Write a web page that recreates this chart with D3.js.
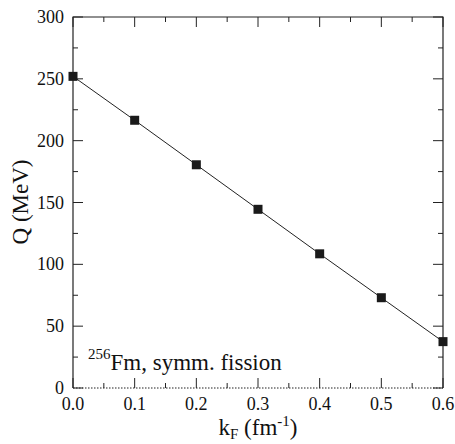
<!DOCTYPE html>
<html>
<head>
<meta charset="utf-8">
<script src="https://cdn.jsdelivr.net/npm/d3@7"></script>
<style>
  body { margin: 0; background: #fff; }
  text { font-family: "Liberation Serif", "Times New Roman", serif; fill: #111; }
</style>
</head>
<body>
<svg id="chart" width="455" height="444"></svg>
<script>
// data
const kF = [0.0, 0.1, 0.2, 0.3, 0.4, 0.5, 0.6]
const Q = [252, 216.5, 180.5, 144.5, 108.5, 73, 37.5]
const xTicks = [0.0, 0.1, 0.2, 0.3, 0.4, 0.5, 0.6]
const yTicks = [0, 50, 100, 150, 200, 250, 300]

const svg = d3.select('#chart')
const pL = 73, pR = 443, pT = 17, pB = 388

const x = d3.scaleLinear().domain([0, 0.6]).range([pL, pR])
const y = d3.scaleLinear().domain([0, 300]).range([pB, pT])

const g = svg.append('g')

// inner ticks on all four sides
const minorX = d3.range(0.05, 0.6, 0.1)
const minorY = d3.range(25, 300, 50)

function ticks(vals, len, side) {
  vals.forEach(v => {
    let p
    if (side === 'bottom') p = [[x(v), pB], [x(v), pB - len]]
    if (side === 'top') p = [[x(v), pT], [x(v), pT + len]]
    if (side === 'left') p = [[pL, y(v)], [pL + len, y(v)]]
    if (side === 'right') p = [[pR, y(v)], [pR - len, y(v)]]
    g.append('path').attr('d', d3.line()(p)).attr('stroke', '#222').attr('stroke-width', 1)
  })
}
ticks(xTicks, 10, 'bottom'); ticks(xTicks, 10, 'top')
ticks(minorX, 5, 'bottom'); ticks(minorX, 5, 'top')
ticks(yTicks, 10, 'left'); ticks(yTicks, 10, 'right')
ticks(minorY, 5, 'left'); ticks(minorY, 5, 'right')

// frame
g.append('path').attr('d', d3.line()([[pL, pB], [pL, pT], [pR, pT], [pR, pB]]))
  .attr('fill', 'none').attr('stroke', '#222').attr('stroke-width', 1.2)
g.append('path').attr('d', d3.line()([[pL, pB], [pR, pB]]))
  .attr('stroke', '#222').attr('stroke-width', 1.2).attr('stroke-dasharray', '1.5,1.5')

// tick labels
g.selectAll('.xl').data(xTicks).enter().append('text')
  .attr('x', d => x(d)).attr('y', 410)
  .attr('text-anchor', 'middle').attr('font-size', 18)
  .text(d => d.toFixed(1))
g.selectAll('.yl').data(yTicks).enter().append('text')
  .attr('x', 64).attr('y', d => y(d) + 6)
  .attr('text-anchor', 'end').attr('font-size', 18)
  .text(d => d)

// line + markers
g.append('path').datum(kF.map((k, i) => [k, Q[i]]))
  .attr('d', d3.line().x(d => x(d[0])).y(d => y(d[1])))
  .attr('fill', 'none').attr('stroke', '#222').attr('stroke-width', 1)
g.selectAll('.pt').data(kF).enter().append('rect')
  .attr('x', (d, i) => x(d) - 4.5).attr('y', (d, i) => y(Q[i]) - 4.5)
  .attr('width', 9).attr('height', 9).attr('fill', '#1a1a1a')

// annotation
const ann = g.append('text').attr('x', 88).attr('y', 370).attr('font-size', 23)
ann.append('tspan').attr('font-size', 15).attr('dy', -11).text('256')
ann.append('tspan').attr('dy', 11).text('Fm, symm. fission')

// axis titles
const xt = g.append('text').attr('x', 258).attr('y', 435).attr('text-anchor', 'middle').attr('font-size', 23)
xt.append('tspan').text('k')
xt.append('tspan').attr('font-size', 15).attr('dy', 4).text('F')
xt.append('tspan').attr('dy', -4).text(' (fm')
xt.append('tspan').attr('font-size', 15).attr('dy', -9).text('-1')
xt.append('tspan').attr('dy', 9).text(')')

g.append('text').attr('transform', 'translate(28,202) rotate(-90)')
  .attr('text-anchor', 'middle').attr('font-size', 23).text('Q (MeV)')
</script>
</body>
</html>
